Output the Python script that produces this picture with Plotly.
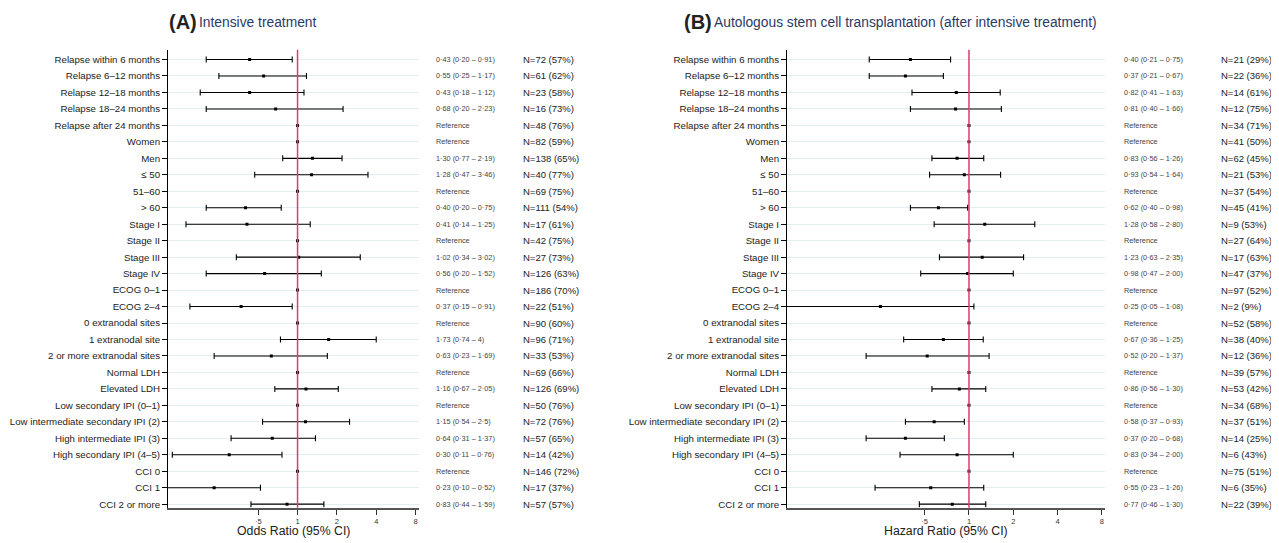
import math
import plotly.graph_objects as go

labels = [
    "Relapse within 6 months", "Relapse 6–12 months", "Relapse 12–18 months",
    "Relapse 18–24 months", "Relapse after 24 months", "Women", "Men",
    "≤ 50", "51–60", "> 60", "Stage I", "Stage II", "Stage III", "Stage IV",
    "ECOG 0–1", "ECOG 2–4", "0 extranodal sites", "1 extranodal site",
    "2 or more extranodal sites", "Normal LDH", "Elevated LDH",
    "Low secondary IPI (0–1)", "Low intermediate secondary IPI (2)",
    "High intermediate IPI (3)", "High secondary IPI (4–5)",
    "CCI 0", "CCI 1", "CCI 2 or more",
]

# Panel A: Intensive treatment (None = reference category)
a_est = [0.43, 0.55, 0.43, 0.68, None, None, 1.30, 1.28, None, 0.40, 0.41, None,
         1.02, 0.56, None, 0.37, None, 1.73, 0.63, None, 1.16, None, 1.15, 0.64,
         0.30, None, 0.23, 0.83]
a_lo = [0.20, 0.25, 0.18, 0.20, None, None, 0.77, 0.47, None, 0.20, 0.14, None,
        0.34, 0.20, None, 0.15, None, 0.74, 0.23, None, 0.67, None, 0.54, 0.31,
        0.11, None, 0.10, 0.44]
a_hi = [0.91, 1.17, 1.12, 2.23, None, None, 2.19, 3.46, None, 0.75, 1.25, None,
        3.02, 1.52, None, 0.91, None, 4.0, 1.69, None, 2.05, None, 2.5, 1.37,
        0.76, None, 0.52, 1.59]
a_ci_text = [
    "0·43 (0·20 – 0·91)", "0·55 (0·25 – 1·17)", "0·43 (0·18 – 1·12)", "0·68 (0·20 – 2·23)",
    "Reference", "Reference", "1·30 (0·77 – 2·19)", "1·28 (0·47 – 3·46)", "Reference",
    "0·40 (0·20 – 0·75)", "0·41 (0·14 – 1·25)", "Reference", "1·02 (0·34 – 3·02)",
    "0·56 (0·20 – 1·52)", "Reference", "0·37 (0·15 – 0·91)", "Reference",
    "1·73 (0·74 – 4)", "0·63 (0·23 – 1·69)", "Reference", "1·16 (0·67 – 2·05)",
    "Reference", "1·15 (0·54 – 2·5)", "0·64 (0·31 – 1·37)", "0·30 (0·11 – 0·76)",
    "Reference", "0·23 (0·10 – 0·52)", "0·83 (0·44 – 1·59)",
]
a_n = [72, 61, 23, 16, 48, 82, 138, 40, 69, 111, 17, 42, 27, 126, 186, 22, 90, 96,
       33, 69, 126, 50, 72, 57, 14, 146, 17, 57]
a_pct = [57, 62, 58, 73, 76, 59, 65, 77, 75, 54, 61, 75, 73, 63, 70, 51, 60, 71,
         53, 66, 69, 76, 76, 65, 42, 72, 37, 57]

# Panel B: Autologous stem cell transplantation
b_est = [0.40, 0.37, 0.82, 0.81, None, None, 0.83, 0.93, None, 0.62, 1.28, None,
         1.23, 0.98, None, 0.25, None, 0.67, 0.52, None, 0.86, None, 0.58, 0.37,
         0.83, None, 0.55, 0.77]
b_lo = [0.21, 0.21, 0.41, 0.40, None, None, 0.56, 0.54, None, 0.40, 0.58, None,
        0.63, 0.47, None, 0.05, None, 0.36, 0.20, None, 0.56, None, 0.37, 0.20,
        0.34, None, 0.23, 0.46]
b_hi = [0.75, 0.67, 1.63, 1.66, None, None, 1.26, 1.64, None, 0.98, 2.80, None,
        2.35, 2.00, None, 1.08, None, 1.25, 1.37, None, 1.30, None, 0.93, 0.68,
        2.00, None, 1.26, 1.30]
b_ci_text = [
    "0·40 (0·21 – 0·75)", "0·37 (0·21 – 0·67)", "0·82 (0·41 – 1·63)", "0·81 (0·40 – 1·66)",
    "Reference", "Reference", "0·83 (0·56 – 1·26)", "0·93 (0·54 – 1·64)", "Reference",
    "0·62 (0·40 – 0·98)", "1·28 (0·58 – 2·80)", "Reference", "1·23 (0·63 – 2·35)",
    "0·98 (0·47 – 2·00)", "Reference", "0·25 (0·05 – 1·08)", "Reference",
    "0·67 (0·36 – 1·25)", "0·52 (0·20 – 1·37)", "Reference", "0·86 (0·56 – 1·30)",
    "Reference", "0·58 (0·37 – 0·93)", "0·37 (0·20 – 0·68)", "0·83 (0·34 – 2·00)",
    "Reference", "0·55 (0·23 – 1·26)", "0·77 (0·46 – 1·30)",
]
b_n = [21, 22, 14, 12, 34, 41, 62, 21, 37, 45, 9, 27, 17, 47, 97, 2, 52, 38, 12,
       39, 53, 34, 37, 14, 6, 75, 6, 22]
b_pct = [29, 36, 61, 75, 71, 50, 45, 53, 54, 41, 53, 64, 63, 37, 52, 9, 58, 40,
         36, 57, 42, 68, 51, 25, 43, 51, 35, 39]

x_tickvals = [0.5, 1, 2, 4, 8]
x_ticktext = ["·5", "1", "2", "4", "8"]

FONT = "Liberation Sans, Arial, sans-serif"
OFF = 8  # default page body margin
W, H = 1279 - OFF, 543 - OFF


def px(v):
    return (v - OFF) / W


def py(v):
    return 1 - (v - OFF) / H


fig = go.Figure()

panels = [
    dict(est=a_est, lo=a_lo, hi=a_hi, ci=a_ci_text, n=a_n, pct=a_pct, xa="x", ya="y",
         dom=[px(168), px(419)], rng=[0.102, 8.5], ci_x=px(434), n_x=px(521),
         tag="(A)", tag_x=px(167), title="Intensive treatment",
         xtitle="Odds Ratio (95% CI)"),
    dict(est=b_est, lo=b_lo, hi=b_hi, ci=b_ci_text, n=b_n, pct=b_pct, xa="x2", ya="y2",
         dom=[px(787), px(1105)], rng=[0.058, 8.4], ci_x=px(1122), n_x=px(1219),
         tag="(B)", tag_x=px(682),
         title="Autologous stem cell transplantation (after intensive treatment)",
         xtitle="Hazard Ratio (95% CI)"),
]

ydom = [py(509.5), py(49.8)]
idx = list(range(len(labels)))

for k, p in enumerate(panels):
    ys, xs, ep, em = [], [], [], []
    ry, rx = [], []
    for i, (e, l, h) in enumerate(zip(p["est"], p["lo"], p["hi"])):
        if e is None:
            ry.append(i)
            rx.append(1)
        else:
            ys.append(i)
            xs.append(e)
            ep.append(h - e)
            em.append(e - l)
    fig.add_trace(go.Scatter(
        x=xs, y=ys, mode="markers", xaxis=p["xa"], yaxis=p["ya"],
        marker=dict(symbol="square", size=3, color="black"),
        error_x=dict(type="data", symmetric=False, array=ep, arrayminus=em,
                     color="black", thickness=1.1, width=3),
        showlegend=False, hoverinfo="skip"))
    fig.add_trace(go.Scatter(
        x=rx, y=ry, mode="markers", xaxis=p["xa"], yaxis=p["ya"],
        marker=dict(symbol="square", size=3, color="black"),
        showlegend=False, hoverinfo="skip"))

    sfx = "" if k == 0 else "2"
    fig.update_layout(**{
        "xaxis" + sfx: dict(
            domain=p["dom"], anchor="y" + sfx, type="log",
            range=[math.log10(p["rng"][0]), math.log10(p["rng"][1])],
            tickvals=x_tickvals, ticktext=x_ticktext,
            tickfont=dict(size=7.5, color="#333", family=FONT),
            showline=True, linecolor="#555", linewidth=2,
            ticks="outside", ticklen=5, tickcolor="#333", tickwidth=1,
            showgrid=False, zeroline=False),
        "yaxis" + sfx: dict(
            domain=ydom, anchor="x" + sfx, range=[27.21, -0.6],
            tickvals=idx, ticktext=labels,
            tickfont=dict(size=9.7, color="#222", family=FONT),
            showline=True, linecolor="black", linewidth=1,
            ticks="outside", ticklen=5, tickcolor="black", tickwidth=1,
            showgrid=True, gridcolor="#e3eef1", gridwidth=1, zeroline=False),
    })
    fig.add_shape(type="line", xref=p["xa"], yref=("y" + sfx) + " domain",
                  x0=1, x1=1, y0=0, y1=1,
                  line=dict(color="#dc3c6b", width=1.5))
    for i in idx:
        fig.add_annotation(x=p["ci_x"], y=i, xref="paper", yref=p["ya"],
                           text=p["ci"][i], showarrow=False, xanchor="left",
                           font=dict(size=7.3, color="#444", family=FONT))
        fig.add_annotation(x=p["n_x"], y=i, xref="paper", yref=p["ya"],
                           text=f"N={p['n'][i]} ({p['pct'][i]}%)", showarrow=False,
                           xanchor="left", font=dict(size=9.5, color="#222", family=FONT))
    fig.add_annotation(x=p["tag_x"], y=py(22), xref="paper", yref="paper",
                       text="<b>" + p["tag"] + "</b>", showarrow=False,
                       xanchor="left", yanchor="middle",
                       font=dict(size=20, color="#222", family=FONT))
    fig.add_annotation(x=p["tag_x"] + 30 / W, y=py(22.5), xref="paper", yref="paper",
                       text=p["title"], showarrow=False, xanchor="left", yanchor="middle",
                       font=dict(size=13.8, color="#2b3966", family=FONT))
    fig.add_annotation(x=(p["dom"][0] + p["dom"][1]) / 2, y=py(533),
                       xref="paper", yref="paper", text=p["xtitle"], showarrow=False,
                       xanchor="center", yanchor="middle",
                       font=dict(size=12.3, color="#222", family=FONT))

fig.update_layout(width=W, height=H, margin=dict(l=0, r=0, t=0, b=0),
                  plot_bgcolor="white", paper_bgcolor="white",
                  font=dict(family=FONT))
fig.write_html("out.html")
